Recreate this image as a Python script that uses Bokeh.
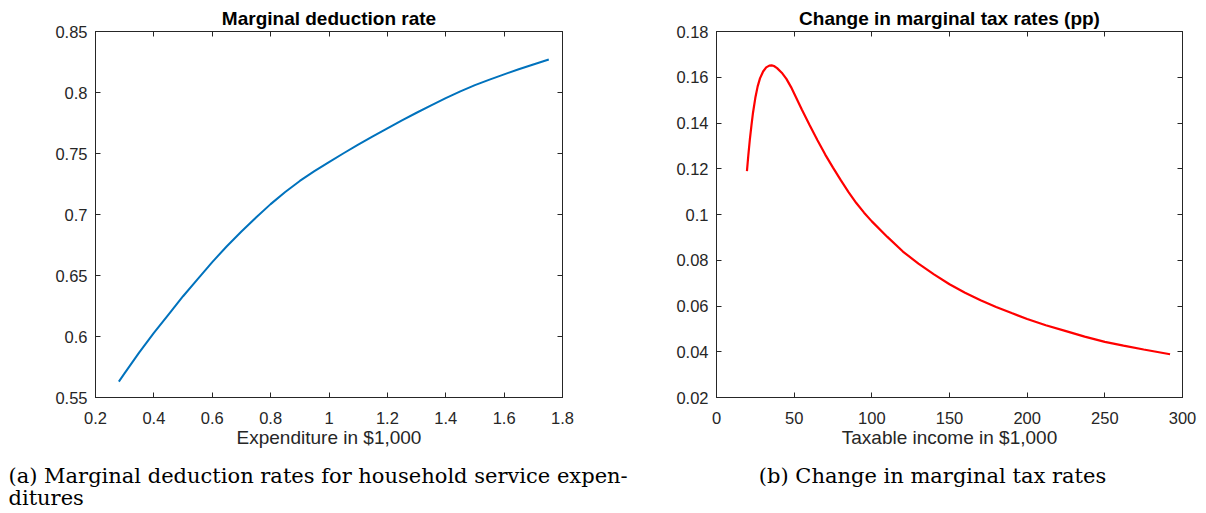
from bokeh.plotting import figure
from bokeh.layouts import row, column
from bokeh.models import (LinearAxis, FixedTicker, CustomJSTickFormatter, Label,
                          Range1d)
from bokeh.embed import file_html
from bokeh.resources import INLINE

# ---- data: panel (a) marginal deduction rate ----
exp_x = [0.28, 0.30, 0.35, 0.40, 0.45, 0.50, 0.55, 0.60, 0.65, 0.70, 0.75, 0.80,
         0.85, 0.90, 0.95, 1.00, 1.05, 1.10, 1.15, 1.20, 1.25, 1.30, 1.35, 1.40,
         1.45, 1.50, 1.55, 1.60, 1.65, 1.70, 1.753]
exp_y = [0.563, 0.570, 0.587, 0.603, 0.618, 0.633, 0.647, 0.661, 0.674, 0.686,
         0.6975, 0.7085, 0.7185, 0.7275, 0.7355, 0.743, 0.7502, 0.7572, 0.764,
         0.7706, 0.7771, 0.7834, 0.7895, 0.7954, 0.8009, 0.806, 0.8106, 0.8149,
         0.8190, 0.8230, 0.827]

# ---- data: panel (b) change in marginal tax rates ----
inc_x = [19.6, 20.5, 21.5, 22.5, 23.5, 25, 26.5, 28, 30, 32, 34, 35.5, 37, 39,
         42, 45, 48, 51, 55, 60, 65, 70, 75, 80, 85, 90, 95, 100, 110, 120, 130,
         140, 150, 160, 170, 180, 190, 200, 212, 225, 237, 250, 262, 275, 292]
inc_y = [0.119, 0.126, 0.133, 0.139, 0.1445, 0.151, 0.156, 0.1595, 0.1625,
         0.1643, 0.1651, 0.1652, 0.1649, 0.1640, 0.1620, 0.1593, 0.1557, 0.1515,
         0.1458, 0.1390, 0.1325, 0.1262, 0.1205, 0.1150, 0.1098, 0.1050, 0.1008,
         0.0970, 0.0902, 0.0838, 0.0785, 0.0738, 0.0695, 0.0658, 0.0625, 0.0596,
         0.0569, 0.0543, 0.0516, 0.0490, 0.0466, 0.0443, 0.0427, 0.0410, 0.0389]

a_xticks = [0.2, 0.4, 0.6, 0.8, 1.0, 1.2, 1.4, 1.6, 1.8]
a_yticks = [0.55, 0.6, 0.65, 0.7, 0.75, 0.8, 0.85]
b_xticks = [0, 50, 100, 150, 200, 250, 300]
b_yticks = [0.02, 0.04, 0.06, 0.08, 0.1, 0.12, 0.14, 0.16, 0.18]

title_a = "Marginal deduction rate"
title_b = "Change in marginal tax rates (pp)"
xlabel_a = "Expenditure in $1,000"
xlabel_b = "Taxable income in $1,000"
caption_a = ["(a) Marginal deduction rates for household service expen-", "ditures"]
caption_b = "(b) Change in marginal tax rates"

AX = "#262626"
FMT = "return String(Math.round(tick*1000)/1000)"
W = 1206
TOP_B = 31
FRAME_H = 366
BOT_B = 55
H_CAP = 513 - TOP_B - FRAME_H - BOT_B


def style_axis(ax, ticks, show_labels=True, standoff=8, label_standoff=2):
    ax.ticker = FixedTicker(ticks=ticks)
    ax.minor_tick_line_color = None
    ax.minor_tick_out = 0
    ax.minor_tick_in = 0
    ax.major_tick_in = 5
    ax.major_tick_out = 0
    ax.major_tick_line_color = AX
    ax.axis_line_color = AX
    ax.axis_line_width = 1
    if show_labels:
        ax.formatter = CustomJSTickFormatter(code=FMT)
        ax.major_label_text_font = "Liberation Sans"
        ax.major_label_text_font_size = "16.5px"
        ax.major_label_text_color = AX
        ax.major_label_standoff = standoff
        ax.axis_label_text_font = "Liberation Sans"
        ax.axis_label_text_font_size = "19px"
        ax.axis_label_text_font_style = "normal"
        ax.axis_label_text_color = AX
        ax.axis_label_standoff = label_standoff
    else:
        ax.formatter = CustomJSTickFormatter(code="return ''")
        ax.major_label_standoff = 0


def strip(height):
    s = figure(width=W, height=height, x_range=Range1d(0, W), y_range=Range1d(0, height),
               x_axis_type=None, y_axis_type=None, output_backend="svg",
               toolbar_location=None, min_border=0)
    s.outline_line_color = None
    s.xgrid.visible = False
    s.ygrid.visible = False
    s.background_fill_color = "white"
    s.border_fill_color = "white"
    return s


def make_panel(xr, yr, xticks, yticks, title, xlabel, fw, bl, br, xs, ys, color, lw):
    p = figure(frame_width=fw, frame_height=FRAME_H,
               x_range=Range1d(*xr), y_range=Range1d(*yr),
               output_backend="svg", toolbar_location=None,
               min_border_left=bl, min_border_right=br,
               min_border_top=TOP_B, min_border_bottom=BOT_B,
               title=title)
    p.title.text_font = "Liberation Sans"
    p.title.text_font_size = "19px"
    p.title.text_font_style = "bold"
    p.title.text_color = "black"
    p.title.align = "center"
    p.title.standoff = 5
    p.xgrid.visible = False
    p.ygrid.visible = False
    p.outline_line_color = AX
    p.outline_line_alpha = 1
    p.background_fill_color = "white"
    p.border_fill_color = "white"

    style_axis(p.xaxis[0], xticks, standoff=14, label_standoff=0)
    style_axis(p.yaxis[0], yticks, standoff=8)
    p.xaxis[0].axis_label = xlabel

    top = LinearAxis()
    style_axis(top, xticks, show_labels=False)
    p.add_layout(top, "above")
    right = LinearAxis()
    style_axis(right, yticks, show_labels=False)
    p.add_layout(right, "right")

    p.line(xs, ys, line_color=color, line_width=lw)
    return p


pa = make_panel((0.2, 1.8), (0.55, 0.85), a_xticks, a_yticks, title_a, xlabel_a,
                467, 95, 86, exp_x, exp_y, "#0072BD", 2)
pb = make_panel((0, 300), (0.02, 0.18), b_xticks, b_yticks, title_b, xlabel_b,
                466, 68, 24, inc_x, inc_y, "#FF0000", 2.2)

# caption strip (LaTeX-like subfigure captions)
cap = strip(H_CAP)
cap_style = dict(x_units="screen", y_units="screen", text_baseline="middle",
                 text_font="DejaVu Serif", text_font_size="21px", text_color="black")
cap.add_layout(Label(x=8, y=513 - 475, text=caption_a[0], text_align="left", **cap_style))
cap.add_layout(Label(x=8, y=513 - 497, text=caption_a[1], text_align="left", **cap_style))
cap.add_layout(Label(x=932, y=513 - 475, text=caption_b, text_align="center", **cap_style))

layout = column(row(pa, pb, spacing=0), cap, spacing=0)
open("out.html", "w").write(file_html(layout, INLINE))
